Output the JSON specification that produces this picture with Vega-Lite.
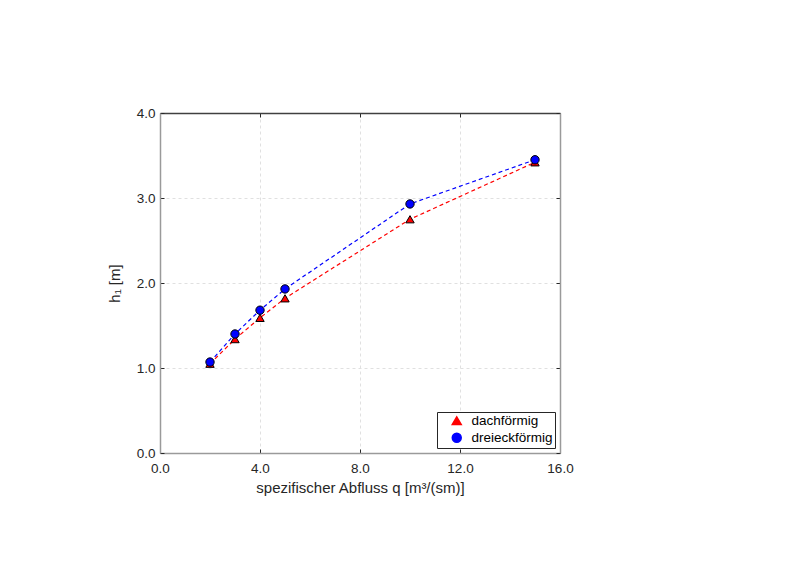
{
  "$schema": "https://vega.github.io/schema/vega-lite/v6.json",
  "width": 400,
  "height": 340,
  "autosize": "none",
  "padding": {"left": 160, "top": 113, "right": 240, "bottom": 114},
  "background": "white",
  "config": {
    "font": "Liberation Sans",
    "view": {"stroke": null},
    "axis": {
      "labelFont": "Liberation Sans",
      "titleFont": "Liberation Sans",
      "labelFontSize": 13.5,
      "titleFontSize": 15,
      "labelColor": "#262626",
      "titleColor": "#262626",
      "titleFontWeight": "normal",
      "labelFlush": false,
      "domain": true,
      "domainColor": "#9a9a9a",
      "domainWidth": 1.5,
      "tickColor": "#262626",
      "tickSize": -4,
      "gridColor": "#e0e0e0",
      "gridDash": [3, 3]
    },
    "legend": {
      "labelFont": "Liberation Sans",
      "labelFontSize": 13.5,
      "labelColor": "#000000",
      "strokeColor": "#262626",
      "fillColor": "white",
      "padding": 2,
      "rowPadding": 2,
      "symbolSize": 80,
      "symbolOffset": 11,
      "labelOffset": 8
    }
  },
  "data": {
    "values": [
      {"q": 2, "h": 1.05, "typ": "dachförmig"},
      {"q": 3, "h": 1.34, "typ": "dachförmig"},
      {"q": 4, "h": 1.59, "typ": "dachförmig"},
      {"q": 5, "h": 1.82, "typ": "dachförmig"},
      {"q": 10, "h": 2.75, "typ": "dachförmig"},
      {"q": 15, "h": 3.42, "typ": "dachförmig"},
      {"q": 2, "h": 1.07, "typ": "dreieckförmig"},
      {"q": 3, "h": 1.40, "typ": "dreieckförmig"},
      {"q": 4, "h": 1.68, "typ": "dreieckförmig"},
      {"q": 5, "h": 1.93, "typ": "dreieckförmig"},
      {"q": 10, "h": 2.93, "typ": "dreieckförmig"},
      {"q": 15, "h": 3.45, "typ": "dreieckförmig"}
    ]
  },
  "resolve": {"axis": {"x": "independent", "y": "independent"}},
  "layer": [
    {
      "mark": {"type": "line", "interpolate": "linear", "strokeDash": [4, 3], "strokeWidth": 1.2},
      "encoding": {
        "x": {
          "field": "q", "type": "quantitative",
          "scale": {"domain": [0, 16], "nice": false},
          "axis": {"values": [0, 4, 8, 12, 16], "format": ".1f", "title": "spezifischer Abfluss q [m³/(sm)]", "labelPadding": 12, "titlePadding": 6}
        },
        "y": {
          "field": "h", "type": "quantitative",
          "scale": {"domain": [0, 4], "nice": false},
          "axis": {"values": [0, 1, 2, 3, 4], "format": ".1f", "title": "h₁ [m]", "labelPadding": 9, "titlePadding": 14}
        },
        "color": {
          "field": "typ", "type": "nominal",
          "scale": {"domain": ["dachförmig", "dreieckförmig"], "range": ["#ff0000", "#0000ff"]}
        },
        "detail": {"field": "typ"}
      }
    },
    {
      "mark": {"type": "point", "filled": true, "stroke": "#000000", "strokeWidth": 1, "size": 70, "opacity": 1},
      "encoding": {
        "x": {"field": "q", "type": "quantitative", "axis": {"orient": "top", "labels": false, "title": null, "grid": false, "domainColor": "#404040", "values": [0, 4, 8, 12, 16]}},
        "y": {"field": "h", "type": "quantitative", "axis": {"orient": "right", "labels": false, "title": null, "grid": false, "values": [0, 1, 2, 3, 4]}},
        "color": {
          "field": "typ", "type": "nominal",
          "scale": {"domain": ["dachförmig", "dreieckförmig"], "range": ["#ff0000", "#0000ff"]},
          "legend": {"title": null, "orient": "none", "legendX": 277, "legendY": 299}
        },
        "shape": {
          "field": "typ", "type": "nominal",
          "scale": {"domain": ["dachförmig", "dreieckförmig"], "range": ["triangle-up", "circle"]},
          "legend": {"title": null, "orient": "none", "legendX": 277, "legendY": 299}
        }
      }
    }
  ]
}
